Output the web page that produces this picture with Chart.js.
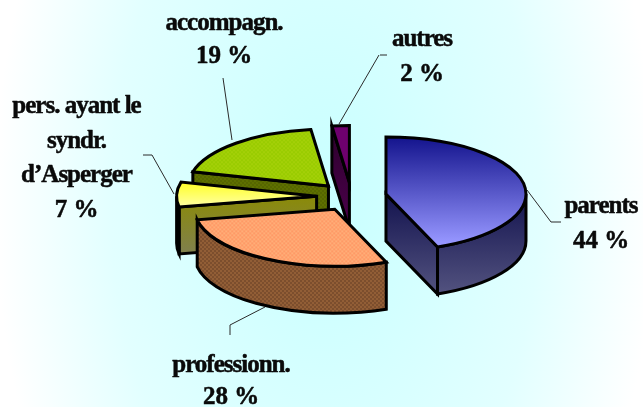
<!DOCTYPE html>
<html>
<head>
<meta charset="utf-8">
<style>
html,body{margin:0;padding:0;width:643px;height:407px;overflow:hidden;
background:radial-gradient(ellipse 330px 560px at 325px 200px,#c8ffff 0%,#e2ffff 65%,#ffffff 100%);}
canvas{display:block}
</style>
<script src="https://cdn.jsdelivr.net/npm/chart.js@4/dist/chart.umd.min.js"></script>
</head>
<body>
<canvas id="c" width="643" height="407"></canvas>
<script>
const categories = ["parents", "professionn.", "pers. ayant le syndr. d’Asperger", "accompagn.", "autres"];
const values = [44, 28, 7, 19, 2];

const TILT = 0.407, DEPTH = 47, EXPLODE = 35, CX = 351.6, CY = 196.7;
const FONT = 'bold 25px "Liberation Serif"';
const paintOrder = [4, 3, 2, 1, 0];
const labelLayout = [
  {lines:["parents"], x:601, y:213, gap:35, leader:[[527,190],[551,222],[561,222]]},
  {lines:["professionn."], x:231, y:372, gap:32, leader:[[265,307],[230,325],[230,335]]},
  {lines:["pers. ayant le","syndr.","d’Asperger"], x:76.5, y:113, gap:34.6, leader:[[143,155],[152,155],[174,194]]},
  {lines:["accompagn."], x:224, y:30, gap:33, leader:[[223,78],[232,140]]},
  {lines:["autres"], x:422, y:46, gap:35, leader:[[380,55],[387,55]], extra:[[379,55],[339,124]]}
];

function checker(a, b, stretch) {
  const p = document.createElement('canvas');
  p.width = p.height = 4;
  const g = p.getContext('2d');
  g.fillStyle = a; g.fillRect(0,0,4,4);
  g.fillStyle = b; g.fillRect(0,0,2,2); g.fillRect(2,2,2,2);
  const pat = g.createPattern(p,'repeat');
  if (stretch) pat.setTransform(new DOMMatrix().scale(1,1/TILT));
  return pat;
}
function vGrad(ctx, y0, y1, c0, c1) {
  const g = ctx.createLinearGradient(0,y0,0,y1);
  g.addColorStop(0,c0); g.addColorStop(1,c1);
  return g;
}
function topFill(c) {
  const ctx = c.chart.ctx;
  const cy = c.chart.height / 2;
  const up = y => cy + (y - CY) / TILT;
  switch (c.dataIndex) {
    case 0: return vGrad(ctx, up(137), up(245), '#10108a', '#9696ff');
    case 1: return checker('#ff9966', '#ffae78', true);
    case 2: return vGrad(ctx, up(182), up(208), '#ffff22', '#ffffa8');
    case 3: return checker('#99cc00', '#a4d008', true);
    default: return '#6e006e';
  }
}
function wallFill(ctx, i) {
  switch (i) {
    case 0: return vGrad(ctx, 190, 293, '#10104c', '#52527f');
    case 1: return checker('#925e36', '#7c4e2d', false);
    case 2: return vGrad(ctx, 200, 254, '#8a8a0c', '#80804e');
    case 3: return checker('#5e7000', '#566600', false);
    default: return vGrad(ctx, 124, 222, '#2c002c', '#4a004a');
  }
}

const pie3d = {
  id:'pie3d',
  beforeDatasetsDraw(chart) {
    const ctx = chart.ctx, arcs = chart.getDatasetMeta(0).data;
    paintOrder.forEach(i => {
      const arc = arcs[i], s = arc.startAngle, e = arc.endAngle;
      const r = arc.outerRadius, mid = (s + e) / 2;
      const ax = CX + EXPLODE * Math.cos(mid), ay = CY + EXPLODE * Math.sin(mid) * TILT;
      const P = t => [ax + r * Math.cos(t), ay + r * TILT * Math.sin(t)];
      ctx.save();
      ctx.lineWidth = 3; ctx.strokeStyle = '#000'; ctx.lineJoin = 'miter';
      ctx.fillStyle = wallFill(ctx, i);
      const quad = t => {
        const p = P(t);
        ctx.beginPath();
        ctx.moveTo(ax, ay); ctx.lineTo(p[0], p[1]);
        ctx.lineTo(p[0], p[1] + DEPTH); ctx.lineTo(ax, ay + DEPTH); ctx.closePath();
        ctx.fill(); ctx.stroke();
      };
      if (Math.cos(s) < -1e-6) quad(s);
      if (Math.cos(e) > 1e-6) quad(e);
      const a0 = Math.max(s, 0), a1 = Math.min(e, Math.PI);
      if (a1 > a0) {
        ctx.beginPath();
        ctx.ellipse(ax, ay, r, r * TILT, 0, a0, a1);
        ctx.ellipse(ax, ay + DEPTH, r, r * TILT, 0, a1, a0, true);
        ctx.closePath();
        ctx.fill(); ctx.stroke();
      }
      ctx.save();
      ctx.translate(ax, ay); ctx.scale(1, TILT); ctx.translate(-arc.x, -arc.y);
      arc.draw(ctx);
      ctx.restore();
      ctx.beginPath();
      ctx.moveTo(ax, ay);
      ctx.ellipse(ax, ay, r, r * TILT, 0, s, e);
      ctx.closePath();
      ctx.stroke();
      ctx.restore();
    });
    return false;
  },
  afterDraw(chart) {
    const ctx = chart.ctx;
    ctx.save();
    ctx.strokeStyle = '#2a2a2a'; ctx.lineWidth = 1;
    labelLayout.forEach(l => {
      [l.leader, l.extra].forEach(path => {
        if (!path) return;
        ctx.beginPath();
        path.forEach((p, j) => j ? ctx.lineTo(p[0], p[1]) : ctx.moveTo(p[0], p[1]));
        ctx.stroke();
      });
    });
    ctx.font = FONT; ctx.fillStyle = '#0a0a0a'; ctx.strokeStyle = '#0a0a0a';
    ctx.lineWidth = 0.5; ctx.lineJoin = 'round'; ctx.textAlign = 'center';
    const put = (t, x, y, sp) => { ctx.letterSpacing = sp; ctx.fillText(t, x, y); ctx.strokeText(t, x, y); };
    labelLayout.forEach((l, i) => {
      l.lines.forEach((t, j) => put(t, l.x, l.y + j * l.gap, '-1px'));
      put(values[i] + ' %', l.x, l.y + l.lines.length * l.gap, '0px');
    });
    ctx.restore();
  }
};

new Chart(document.getElementById('c'), {
  type:'pie',
  data:{labels:categories, datasets:[{data:values, backgroundColor:topFill, borderWidth:0, offset:0, hoverOffset:0}]},
  options:{responsive:false, animation:false, radius:140,
    events:[],
    plugins:{legend:{display:false}, tooltip:{enabled:false}}},
  plugins:[pie3d]
});
</script>
</body>
</html>
